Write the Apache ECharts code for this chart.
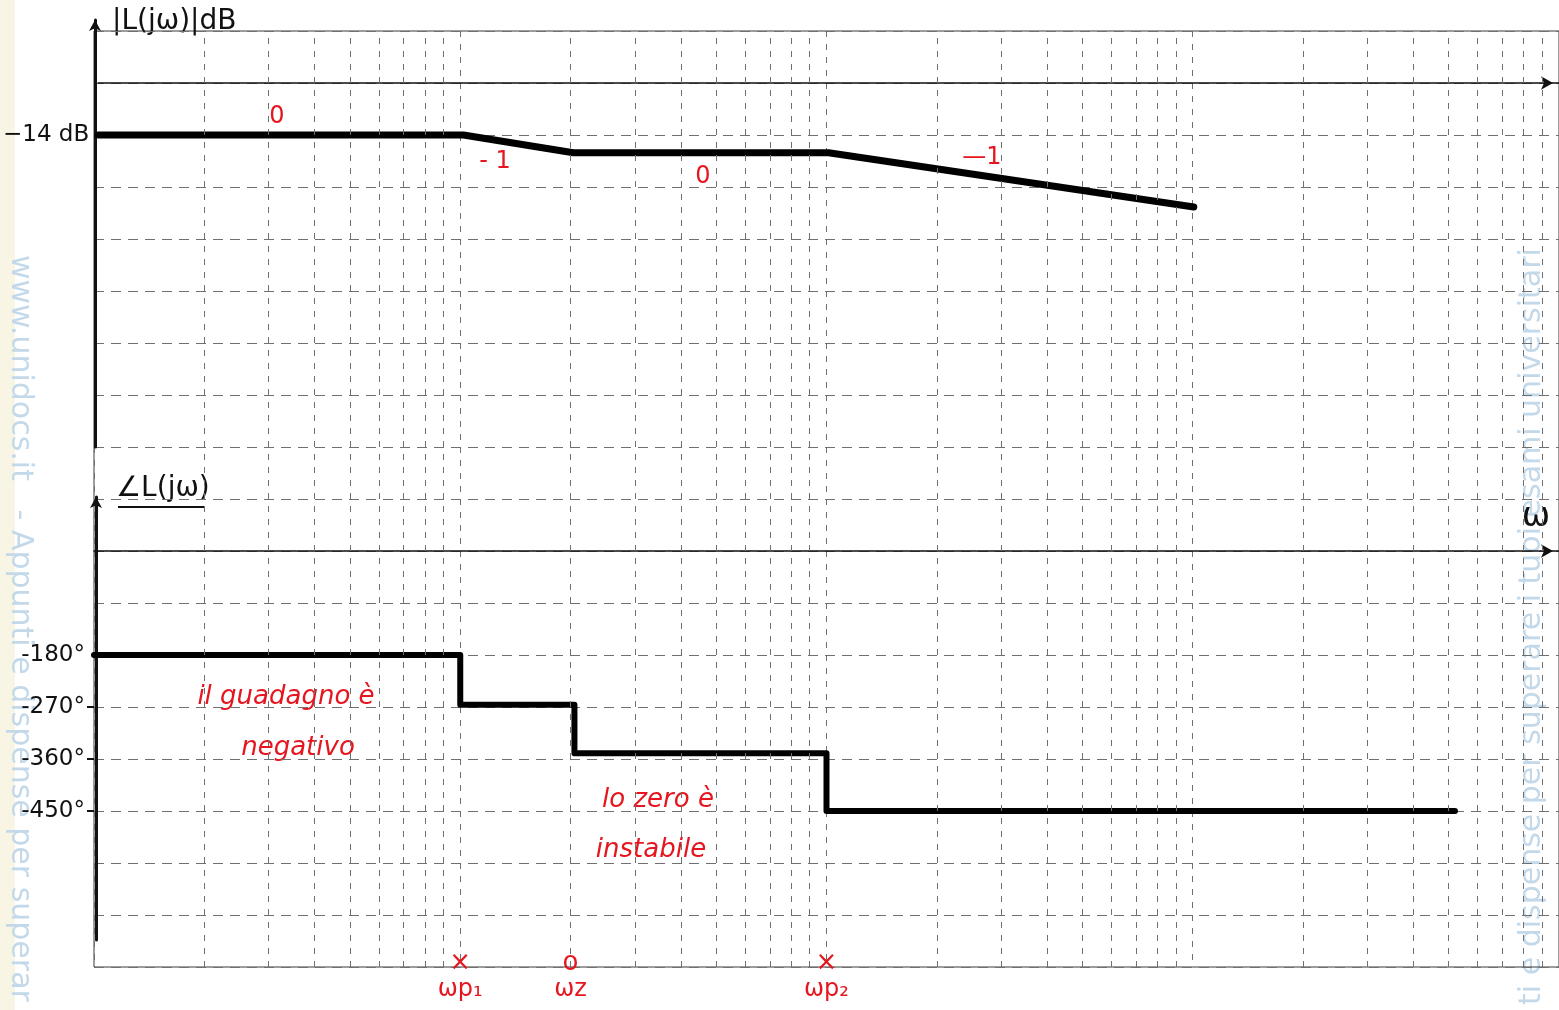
<!DOCTYPE html>
<html>
<head>
<meta charset="utf-8">
<script src="https://cdn.jsdelivr.net/npm/echarts@6/dist/echarts.min.js"></script>
<style>
html,body{margin:0;padding:0;background:#fff;}
#chart{width:1559px;height:1010px;}
</style>
</head>
<body>
<div id="chart"></div>
<script>
// ---- data ----
const magOmega = [1, 10, 20, 100, 1000];
const magDb = [-14, -14, -18.8, -18.8, -33.4];
const phaseOmega = [1, 10, 10, 20.5, 20.5, 100, 100, 5200];
const phaseDeg = [-180, -180, -266, -266, -350, -350, -450, -450];
const minorGridOmega = [2,3,4,5,6,7,8,9,20,30,40,50,60,70,80,90,200,300,400,500,600,700,800,900,2000,3000,4000,5000,6000,7000,8000,9000];
const magLabelValues = [-14];
const magLabelTexts = ['−14 dB'];
const phaseLabelValues = [-180, -270, -360, -450];
const phaseLabelTexts = ['-180°', '-270°', '-360°', '-450°'];
const phaseTickValues = [-270, -360, -450];
const breakOmega = [10, 20, 100];
const breakMarks = ['×', 'o', '×'];
const breakNames = ['ωp₁', 'ωz', 'ωp₂'];

const RED = '#e5161f';
const GRIDC = '#707070';
const FONT = '"DejaVu Sans", "Noto Sans", sans-serif';

const chart = echarts.init(document.getElementById('chart'));

function zip(xs, ys){ return xs.map((x,i)=>[x, ys[i]]); }

const hidden = {show:false};
const logAxis = (gridIndex, extra) => Object.assign({
  type:'log', logBase:10, min:1, max:10000, gridIndex,
  axisTick:hidden, axisLabel:hidden, splitLine:hidden
}, extra);

const option = {
  animation:false,
  backgroundColor:'#ffffff',
  grid:[
    {left:94, right:0, top:31, bottom:43, show:true, borderColor:'#3a3a3a', borderWidth:1, backgroundColor:'transparent'},
    {left:94, right:0, top:31, height:468},
    {left:94, right:0, top:499, height:468},
    {left:95, width:20, top:20, height:427},
    {left:96, width:20, top:497, height:443}
  ],
  xAxis:[
    logAxis(0, {
      axisLine:hidden,
      splitLine:{show:true, lineStyle:{color:GRIDC, width:1, type:[6,7]}},
      axisLabel:{
        show:true, customValues:breakOmega, margin:-18, fontSize:24, color:RED, fontFamily:FONT,
        formatter:(v)=>{
          const i = breakOmega.findIndex(b=>Math.abs(b-v)<1e-6);
          return i<0 ? '' : '{m|'+breakMarks[i]+'}\n{l|'+breakNames[i]+'}';
        },
        rich:{
          m:{color:RED, fontSize:26, lineHeight:28, fontFamily:FONT},
          l:{color:RED, fontSize:24, lineHeight:26, fontFamily:FONT}
        }
      }
    }),
    logAxis(1, {axisLine:{show:true, onZero:true, symbol:['none','arrow'], symbolSize:[10,12], symbolOffset:[0,-6], lineStyle:{color:'#111', width:1.6}}}),
    logAxis(2, {axisLine:{show:true, onZero:true, symbol:['none','arrow'], symbolSize:[10,12], symbolOffset:[0,-6], lineStyle:{color:'#111', width:1.6}}}),
    {type:'value', gridIndex:3, show:false},
    {type:'value', gridIndex:4, show:false}
  ],
  yAxis:[
    {type:'value', gridIndex:0, min:0, max:18, interval:1, axisLine:hidden, axisTick:hidden, axisLabel:hidden,
     splitLine:{show:true, lineStyle:{color:GRIDC, width:1, type:[10,7]}}},
    {type:'value', gridIndex:1, min:-112, max:14, interval:14, axisLine:hidden, axisTick:hidden, splitLine:hidden,
     axisLabel:{show:true, margin:9, color:'#111', fontSize:23, fontFamily:FONT,
       formatter:(v)=>{const i=magLabelValues.indexOf(v); return i<0?'':magLabelTexts[i];}}},
    {type:'value', gridIndex:2, min:-720, max:90, interval:90, axisLine:hidden, splitLine:hidden,
     axisTick:{show:true, customValues:phaseTickValues, length:7, inside:false, lineStyle:{color:'#111', width:2}},
     axisLabel:{show:true, margin:9, color:'#111', fontSize:23, fontFamily:FONT,
       formatter:(v)=>{const i=phaseLabelValues.indexOf(v); return i<0?'':phaseLabelTexts[i];}}},
    {type:'value', gridIndex:3, min:0, max:1, axisLabel:hidden, axisTick:hidden, splitLine:hidden,
     axisLine:{show:true, symbol:['none','arrow'], symbolSize:[9,11], lineStyle:{color:'#111', width:3}}},
    {type:'value', gridIndex:4, min:0, max:1, axisLabel:hidden, axisTick:hidden, splitLine:hidden,
     axisLine:{show:true, symbol:['none','arrow'], symbolSize:[9,11], lineStyle:{color:'#111', width:3}}}
  ],
  series:[
    {
      type:'line', xAxisIndex:0, yAxisIndex:0, data:[], silent:true,
      markLine:{silent:true, symbol:['none','none'], label:{show:false},
        lineStyle:{color:GRIDC, width:1, type:[6,7]},
        emphasis:{disabled:true},
        data:minorGridOmega.map(v=>({xAxis:v}))}
    },
    {
      name:'|L(jω)|dB', type:'line', xAxisIndex:1, yAxisIndex:1,
      data:zip(magOmega, magDb), showSymbol:false, symbol:'none',
      lineStyle:{color:'#000', width:7, cap:'round', join:'round'}, silent:true
    },
    {
      name:'∠L(jω)', type:'line', xAxisIndex:2, yAxisIndex:2,
      data:zip(phaseOmega, phaseDeg), showSymbol:false, symbol:'none',
      lineStyle:{color:'#000', width:6, cap:'round', join:'round'}, silent:true
    }
  ],
  graphic:[
    {type:'rect', left:0, top:0, shape:{width:15, height:1010}, style:{fill:'#f8f5e4'}, z:-10},
    {type:'text', x:20, y:255, rotation:-Math.PI/2, style:{text:'www.unidocs.it   - Appunti e dispense per superar', fill:'#c3d9ea', font:'30px '+FONT, textAlign:'left', textVerticalAlign:'middle'}, z:-5},
    {type:'text', x:1532, y:1005, rotation:Math.PI/2, style:{text:'ti e dispense per superare i tuoi esami universitari', fill:'#c3d9ea', font:'30px '+FONT, textAlign:'left', textVerticalAlign:'middle'}, z:-5},
    {type:'text', x:112, y:22, style:{text:'|L(jω)|dB', fill:'#111', font:'28px '+FONT, textVerticalAlign:'middle'}},
    {type:'text', x:116, y:489, style:{text:'∠L(jω)', fill:'#111', font:'28px '+FONT, textVerticalAlign:'middle'}},
    {type:'line', shape:{x1:118, y1:507, x2:205, y2:507}, style:{stroke:'#111', lineWidth:2}},
    {type:'text', x:1536, y:517, style:{text:'ω', fill:'#111', font:'34px '+FONT, textAlign:'center', textVerticalAlign:'middle'}},
    {type:'text', x:277, y:117, style:{text:'0', fill:RED, font:'24px '+FONT, textAlign:'center', textVerticalAlign:'middle'}},
    {type:'text', x:495, y:162, style:{text:'- 1', fill:RED, font:'24px '+FONT, textAlign:'center', textVerticalAlign:'middle'}},
    {type:'text', x:703, y:177, style:{text:'0', fill:RED, font:'24px '+FONT, textAlign:'center', textVerticalAlign:'middle'}},
    {type:'text', x:982, y:158, style:{text:'—1', fill:RED, font:'24px '+FONT, textAlign:'center', textVerticalAlign:'middle'}},
    {type:'text', x:286, y:697, style:{text:'il guadagno è', fill:RED, font:'italic 26px '+FONT, textAlign:'center', textVerticalAlign:'middle'}},
    {type:'text', x:298, y:748, style:{text:'negativo', fill:RED, font:'italic 26px '+FONT, textAlign:'center', textVerticalAlign:'middle'}},
    {type:'text', x:658, y:800, style:{text:'lo zero è', fill:RED, font:'italic 26px '+FONT, textAlign:'center', textVerticalAlign:'middle'}},
    {type:'text', x:651, y:850, style:{text:'instabile', fill:RED, font:'italic 26px '+FONT, textAlign:'center', textVerticalAlign:'middle'}}
  ]
};
chart.setOption(option);
</script>
</body>
</html>
